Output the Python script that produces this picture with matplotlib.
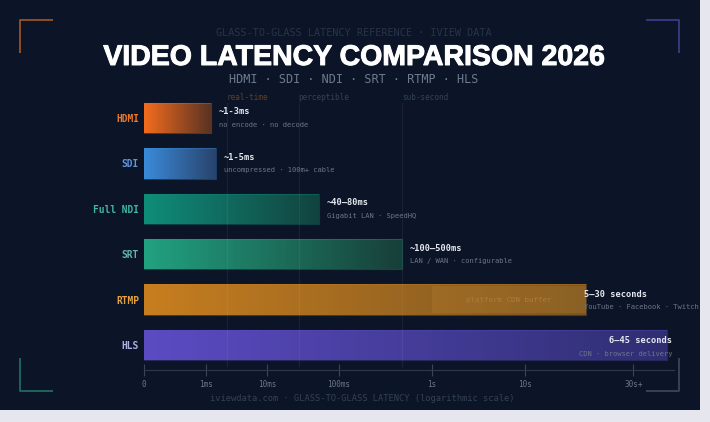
import numpy as np
import matplotlib
matplotlib.use("Agg")
import matplotlib.pyplot as plt
from matplotlib.colors import LinearSegmentedColormap
from matplotlib.patches import Rectangle
from matplotlib.lines import Line2D
import matplotlib.transforms as mtransforms
import matplotlib.patheffects as pe

# ---------------- data ----------------
PROTOCOLS = ["HDMI", "SDI", "Full NDI", "SRT", "RTMP", "HLS"]
LATENCY_MS = [1.21, 1.47, 52.7, 472, 18600, 42000]          # bar end (upper latency)
RANGE_LABELS = ["~1-3ms", "~1-5ms", "~40–80ms", "~100–500ms", "5–30 seconds", "6–45 seconds"]
NOTES = ["no encode · no decode", "uncompressed · 100m+ cable", "Gigabit LAN · SpeedHQ",
         "LAN / WAN · configurable", "YouTube · Facebook · Twitch", "CDN · browser delivery"]
TICK_VALUES_MS = [0, 1, 10, 100, 1000, 10000, 30000]
TICK_LABELS = ["0", "1ms", "10ms", "100ms", "1s", "10s", "30s+"]
ZONE_STARTS_MS = [2.2, 27.5, 475]
ZONE_LABELS = ["real-time", "perceptible", "sub-second"]
CDN_BUFFER_START_MS = 1000
CDN_LABEL = "platform CDN buffer"

TITLE = "VIDEO LATENCY COMPARISON 2026"
KICKER = "GLASS-TO-GLASS LATENCY REFERENCE · IVIEW DATA"
SUBTITLE = "HDMI · SDI · NDI · SRT · RTMP · HLS"
FOOTER = "iviewdata.com · GLASS-TO-GLASS LATENCY (logarithmic scale)"

# ---------------- style ----------------
BG = "#0c1527"
BAR_LEFT = ['#f26b1d', '#3a8ad9', '#0f8c79', '#21a17f', '#c67d1f', '#5b4bc2']
BAR_RIGHT = ['#5a3322', '#28436c', '#11433f', '#173f39', '#7a5522', '#2f2e72']
LABEL_COLORS = ['#e8782a', '#6096dc', '#3fb5a5', '#5fb3b3', '#e3a23e', '#aab0e4']
ZONE_COLORS = ['#5e4128', '#334257', '#334257']
MONO = "DejaVu Sans Mono"
plt.rcParams['font.family'] = [MONO, 'DejaVu Sans']

# piecewise logarithmic axis (decade anchors -> pixel spacing)
LOG_ANCHORS = np.array([-1, 0, 1, 2, 3, 4, np.log10(30000)])
POS_ANCHORS = np.array([0, 61.7, 123, 195, 288, 380.7, 489.3])
SLOPE_END = (POS_ANCHORS[-1] - POS_ANCHORS[-2]) / (LOG_ANCHORS[-1] - LOG_ANCHORS[-2])


def fwd(v):
    v = np.asarray(v, dtype=float)
    u = np.log10(np.clip(v, 0.1, None))
    out = np.interp(u, LOG_ANCHORS, POS_ANCHORS)
    return np.where(u > LOG_ANCHORS[-1], POS_ANCHORS[-1] + (u - LOG_ANCHORS[-1]) * SLOPE_END, out)


def inv(p):
    p = np.asarray(p, dtype=float)
    u = np.interp(p, POS_ANCHORS, LOG_ANCHORS)
    u = np.where(p > POS_ANCHORS[-1], LOG_ANCHORS[-1] + (p - POS_ANCHORS[-1]) / SLOPE_END, u)
    return 10 ** u


W, H = 710, 422
fig = plt.figure(figsize=(W / 100, H / 100), dpi=100)
fig.patch.set_facecolor('#e6e6ee')

# background / decoration axes in pixel coordinates
bg = fig.add_axes([0, 0, 1, 1], zorder=0)
bg.set_xlim(0, W)
bg.set_ylim(H, 0)
bg.axis('off')
bg.add_patch(Rectangle((0, 0), 700, 410, facecolor=BG, edgecolor='none'))


def bracket(x0, y0, dx, dy, color):
    bg.add_line(Line2D([x0 + dx, x0, x0], [y0, y0, y0 + dy], color=color, lw=1.3, solid_capstyle='butt'))


bracket(20, 20, 33, 33, '#9a5222')
bracket(679, 20, -33, 33, '#3a3a86')
bracket(20, 391, 33, -33, '#1f6a5e')
bracket(679, 391, -33, -33, '#3c4456')

bg.text(354, 35.5, KICKER, ha='center', va='baseline', fontsize=7.3, color='#28334a', family=MONO)
bg.text(354, 65, TITLE, ha='center', va='baseline', fontsize=20.5, color='white',
        family='Liberation Sans', fontweight='bold',
        path_effects=[pe.withStroke(linewidth=0.7, foreground='white')])
bg.text(354, 83, SUBTITLE, ha='center', va='baseline', fontsize=8.5, color='#6e7a8e', family=MONO)
bg.text(362, 401, FOOTER, ha='center', va='baseline', fontsize=6.3, color='#334155', family=MONO)

# main axes
ax_left, ax_right, ax_top, ax_bot = 144, 690, 95, 370
ax = fig.add_axes([ax_left / W, 1 - ax_bot / H, (ax_right - ax_left) / W, (ax_bot - ax_top) / H], zorder=1)
ax.set_facecolor('none')
ax.set_xscale('function', functions=(fwd, inv))
ax.set_xlim(0, float(inv(ax_right - ax_left)))
spacing = 45.4
ax.set_ylim((ax_bot - 118) / spacing, (ax_top - 118) / spacing)

bar_h = 30.5 / spacing
n = len(PROTOCOLS)
for i in range(n):
    val = LATENCY_MS[i]
    cmap = LinearSegmentedColormap.from_list(f"g{i}", [BAR_LEFT[i], BAR_RIGHT[i]])
    xe = inv(np.linspace(0, float(fwd(val)), 90))
    xe[0] = 0
    ye = [i - bar_h / 2, i + bar_h / 2]
    C = np.linspace(0, 1, len(xe) - 1)[None, :]
    ax.pcolormesh(xe, ye, C, cmap=cmap, shading='flat', zorder=2)
    ax.add_patch(Rectangle((0, i - bar_h / 2), val, bar_h, facecolor='none',
                           edgecolor=BAR_LEFT[i], alpha=0.35, lw=0.8, zorder=3))

# RTMP CDN buffer overlay
ri = PROTOCOLS.index("RTMP")
rv = LATENCY_MS[ri]
ov_h = 27.0 / spacing
ax.add_patch(Rectangle((CDN_BUFFER_START_MS, ri - ov_h / 2), rv - CDN_BUFFER_START_MS, ov_h,
                       facecolor='#b8802c', alpha=0.28, edgecolor='none', zorder=3))
mid = float(inv((fwd(CDN_BUFFER_START_MS) + fwd(rv)) / 2))
ax.text(mid, ri, CDN_LABEL, ha='center', va='center', fontsize=5.4, color='#b07c3c', zorder=4)

# zone lines & labels
blend = mtransforms.blended_transform_factory(ax.transData, fig.transFigure)
for zv, zl, zc in zip(ZONE_STARTS_MS, ZONE_LABELS, ZONE_COLORS):
    ax.axvline(zv, ymin=(ax_bot - 366) / (ax_bot - ax_top), ymax=(ax_bot - 103) / (ax_bot - ax_top),
               color='white', alpha=0.055, lw=0.9, zorder=5)
    ax.text(zv, 1 - 99.5 / H, zl, transform=blend, ha='left', va='baseline', fontsize=5.5,
            color=zc, clip_on=False)

# value labels
PX = 0.72  # points per pixel
for i in range(n):
    val = LATENCY_MS[i]
    if PROTOCOLS[i] == "RTMP":
        ax.annotate(RANGE_LABELS[i], (val, i), xytext=(-2 * PX, 5.3 * PX), textcoords='offset points',
                    ha='left', va='center', fontsize=6.2, fontweight='bold', color='#e6eaf0', zorder=6)
        ax.annotate(NOTES[i], (val, i), xytext=(-2 * PX, -7 * PX), textcoords='offset points',
                    ha='left', va='center', fontsize=5.1, color='#6b7689', zorder=6)
    elif PROTOCOLS[i] == "HLS":
        ax.annotate(RANGE_LABELS[i], (val, i), xytext=(5 * PX, 4 * PX), textcoords='offset points',
                    ha='right', va='center', fontsize=6.2, fontweight='bold', color='#e6eaf0', zorder=6)
        ax.annotate(NOTES[i], (val, i), xytext=(6 * PX, -8.7 * PX), textcoords='offset points',
                    ha='right', va='center', fontsize=5.1, color='#6b7689', zorder=6)
    else:
        ax.annotate(RANGE_LABELS[i], (val, i), xytext=(8 * PX, 6 * PX), textcoords='offset points',
                    ha='left', va='center', fontsize=6.2, fontweight='bold', color='#e6eaf0', zorder=6)
        ax.annotate(NOTES[i], (val, i), xytext=(8 * PX, -7 * PX), textcoords='offset points',
                    ha='left', va='center', fontsize=5.1, color='#6b7689', zorder=6)

# y axis (categories)
ax.set_yticks(range(n))
ax.set_yticklabels(PROTOCOLS, fontsize=6.9, fontweight='bold')
for lbl, c in zip(ax.get_yticklabels(), LABEL_COLORS):
    lbl.set_color(c)
ax.tick_params(axis='y', length=0, pad=3.6)

# x axis
ax.set_xticks(TICK_VALUES_MS)
ax.set_xticklabels(TICK_LABELS)
ax.xaxis.set_minor_locator(matplotlib.ticker.NullLocator())
ax.tick_params(axis='x', direction='inout', length=8, width=0.8, color='#3a4658',
               labelsize=5.5, labelcolor='#6a778a', pad=3)
for s in ['top', 'right', 'left']:
    ax.spines[s].set_visible(False)
ax.spines['bottom'].set_color('#2e3a4c')
ax.spines['bottom'].set_linewidth(0.8)
ax.spines['bottom'].set_bounds(0, float(inv(530)))

fig.savefig("out.png", dpi=100, facecolor=fig.get_facecolor())
